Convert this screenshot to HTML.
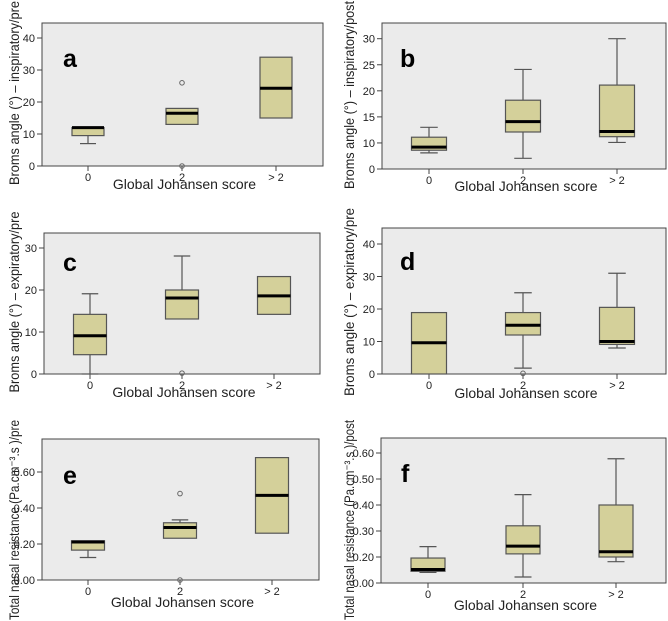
<!DOCTYPE html>
<html><head><meta charset="utf-8">
<style>
html,body{margin:0;padding:0;background:#fff;}
svg{display:block;font-family:"Liberation Sans",sans-serif;}
</style></head>
<body>
<svg id="fig" width="668" height="621" viewBox="0 0 668 621" xmlns="http://www.w3.org/2000/svg"></svg>
<script>
const categories = ["0", "2", "> 2"];

// Panel a
const aLow  = [7, 13, 15];
const aQ1   = [9.5, 13, 15];
const aMed  = [12, 16.5, 24.3];
const aQ3   = [12, 18, 34];
const aHigh = [12, 18, 34];
const aOut  = [[], [26, 0], []];
const aTicks = [0, 10, 20, 30, 40];
const aTickLabels = ["0", "10", "20", "30", "40"];

// Panel b
const bLow  = [8.1, 7.05, 10.1];
const bQ1   = [8.6, 12.1, 11.2];
const bMed  = [9.2, 14.1, 12.2];
const bQ3   = [11.1, 18.2, 21.1];
const bHigh = [13, 24.1, 30];
const bOut  = [[], [], []];
const bTicks = [5, 10, 15, 20, 25, 30];
const bTickLabels = ["0", "10", "15", "20", "25", "30"];

// Panel c
const cLow  = [0, 13.1, 14.2];
const cQ1   = [4.6, 13.1, 14.2];
const cMed  = [9.1, 18.1, 18.6];
const cQ3   = [14.2, 20, 23.2];
const cHigh = [19.1, 28.1, 23.2];
const cOut  = [[], [0.2], []];
const cTicks = [0, 10, 20, 30];
const cTickLabels = ["0", "10", "20", "30"];

// Panel d
const dLow  = [0, 1.8, 8];
const dQ1   = [0, 12, 9.1];
const dMed  = [9.6, 15, 10];
const dQ3   = [18.9, 18.9, 20.5];
const dHigh = [18.9, 25, 31];
const dOut  = [[], [0.2], []];
const dTicks = [0, 10, 20, 30, 40];
const dTickLabels = ["0", "10", "20", "30", "40"];

// Panel e
const eLow  = [0.125, 0.232, 0.26];
const eQ1   = [0.166, 0.232, 0.26];
const eMed  = [0.211, 0.292, 0.47];
const eQ3   = [0.218, 0.318, 0.68];
const eHigh = [0.218, 0.334, 0.68];
const eOut  = [[], [0.48, 0.0], []];
const eTicks = [0, 0.2, 0.4, 0.6];
const eTickLabels = ["0.00", "0.20", "0.40", "0.60"];

// Panel f
const fLow  = [0.141, 0.123, 0.182];
const fQ1   = [0.145, 0.212, 0.2];
const fMed  = [0.152, 0.242, 0.22];
const fQ3   = [0.196, 0.32, 0.4];
const fHigh = [0.24, 0.44, 0.578];
const fOut  = [[], [], []];
const fTicks = [0.1, 0.2, 0.3, 0.4, 0.5, 0.6];
const fTickLabels = ["0.00", "0.20", "0.30", "0.40", "0.50", "0.60"];

const NS = "http://www.w3.org/2000/svg";
const svg = document.getElementById("fig");
function mk(tag, attrs, parent) {
  const el = document.createElementNS(NS, tag);
  for (const k in attrs) el.setAttribute(k, attrs[k]);
  (parent || svg).appendChild(el);
  return el;
}

const panels = [
  {id:"a", x0:42, x1:323, y0:23, y1:166, vmin:0, vmax:40, vy:38, cx:[88,182,276], bw:32, low:aLow,q1:aQ1,med:aMed,q3:aQ3,high:aHigh,out:aOut,ticks:aTicks,tl:aTickLabels, title:"Broms angle (°) – inspiratory/pre", tx:19, tcy:93, tlen:184, lx:63, ly:67, xt:189},
  {id:"b", x0:382, x1:666, y0:23, y1:169, vmin:5, vmax:30, vy:38.7, cx:[429,523,617], bw:35, low:bLow,q1:bQ1,med:bMed,q3:bQ3,high:bHigh,out:bOut,ticks:bTicks,tl:bTickLabels, title:"Broms angle (°) – inspiratory/post", tx:354, tcy:95, tlen:188, lx:400, ly:67, xt:191},
  {id:"c", x0:44, x1:320, y0:233, y1:374, vmin:0, vmax:30, vy:248, cx:[90,182,274], bw:33, low:cLow,q1:cQ1,med:cMed,q3:cQ3,high:cHigh,out:cOut,ticks:cTicks,tl:cTickLabels, title:"Broms angle (°) – expiratory/pre", tx:19, tcy:302, tlen:181, lx:63, ly:271, xt:397},
  {id:"d", x0:382, x1:666, y0:228, y1:374, vmin:0, vmax:40, vy:244, cx:[429,523,617], bw:35, low:dLow,q1:dQ1,med:dMed,q3:dQ3,high:dHigh,out:dOut,ticks:dTicks,tl:dTickLabels, title:"Broms angle (°) – expiratory/pre", tx:354, tcy:302, tlen:188, lx:400, ly:270, xt:398},
  {id:"e", x0:42, x1:319, y0:439, y1:580, vmin:0, vmax:0.6, vy:472, cx:[88,180,272], bw:33, low:eLow,q1:eQ1,med:eMed,q3:eQ3,high:eHigh,out:eOut,ticks:eTicks,tl:eTickLabels, title:"Total nasal resistance (Pa.cm⁻³.s )/pre", tx:19, tcy:520, tlen:200, lx:63, ly:484, xt:607},
  {id:"f", x0:381, x1:666, y0:438, y1:583, vmin:0.1, vmax:0.6, vy:453, cx:[428,523,616], bw:34, low:fLow,q1:fQ1,med:fMed,q3:fQ3,high:fHigh,out:fOut,ticks:fTicks,tl:fTickLabels, title:"Total nasal resistance (Pa.cm⁻³.s )/post", tx:354, tcy:520, tlen:200, lx:401, ly:482, xt:610}
];

panels.forEach(p => {
  const g = mk("g", {});
  
  
  const y = v => p.y1 - (v - p.vmin) / (p.vmax - p.vmin) * (p.y1 - p.vy);
  const bg = mk("rect", {x:p.x0, y:p.y0, width:p.x1-p.x0, height:p.y1-p.y0, fill:"#ebebeb", stroke:"#444", "stroke-width":1}, g);
  
  
  p.ticks.forEach((t, i) => {
    const ty = y(t);
    mk("line", {x1:p.x0-5, x2:p.x0, y1:ty, y2:ty, stroke:"#444"}, g);
    const tl = mk("text", {x:p.x0-7, y:ty+4, "font-size":11, "text-anchor":"end", fill:"#222"}, g);
    tl.textContent = p.tl[i];
    
    
  });
  categories.forEach((c, i) => {
    mk("line", {x1:p.cx[i], x2:p.cx[i], y1:p.y1, y2:p.y1+5, stroke:"#444"}, g);
    const xl = mk("text", {x:p.cx[i], y:p.y1+15, "font-size":11, "text-anchor":"middle", fill:"#222"}, g);
    xl.textContent = c;
    
    
  });
  categories.forEach((c, i) => {
    const cx = p.cx[i], hw = p.bw/2;
    const bx = mk("g", {}, g);
    
    
    if (p.high[i] > p.q3[i]) {
      mk("line", {x1:cx, x2:cx, y1:y(p.q3[i]), y2:y(p.high[i]), stroke:"#555", "stroke-width":1.2}, bx);
      mk("line", {x1:cx-hw/2, x2:cx+hw/2, y1:y(p.high[i]), y2:y(p.high[i]), stroke:"#555", "stroke-width":1.2}, bx);
    }
    if (p.low[i] < p.q1[i]) {
      mk("line", {x1:cx, x2:cx, y1:y(p.q1[i]), y2:y(p.low[i]), stroke:"#555", "stroke-width":1.2}, bx);
      mk("line", {x1:cx-hw/2, x2:cx+hw/2, y1:y(p.low[i]), y2:y(p.low[i]), stroke:"#555", "stroke-width":1.2}, bx);
    }
    const top = y(p.q3[i]), bot = y(p.q1[i]);
    mk("rect", {x:cx-hw, y:top, width:p.bw, height:Math.max(bot-top,1), fill:"#d4d09a", stroke:"#555", "stroke-width":1.2}, bx);
    mk("line", {x1:cx-hw, x2:cx+hw, y1:y(p.med[i]), y2:y(p.med[i]), stroke:"#000", "stroke-width":3}, bx);
    p.out[i].forEach(o => {
      const oc = mk("circle", {cx:cx, cy:y(o), r:2.3, fill:"none", stroke:"#666", "stroke-width":1}, bx);
      
      
    });
  });
  const lt = mk("text", {x:p.lx, y:p.ly, "font-size":25, "font-weight":"bold", fill:"#000"}, g);
  lt.textContent = p.id;
  
  
  const xt = mk("text", {x:(p.x0+p.x1)/2 + 2, y:p.xt, "font-size":14, "text-anchor":"middle", fill:"#222"}, g);
  xt.textContent = "Global Johansen score";
  
  
  const yt = mk("text", {x:0, y:0, "font-size":14, "text-anchor":"middle", textLength:p.tlen, lengthAdjust:"spacingAndGlyphs", fill:"#222", transform:"translate(" + p.tx + "," + p.tcy + ") rotate(-90)"}, g);
  yt.textContent = p.title;
  
  
});
</script>
</body></html>
